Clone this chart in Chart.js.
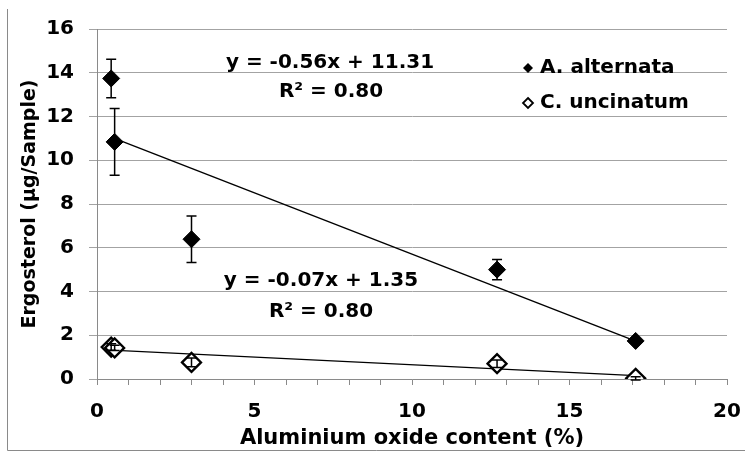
<!DOCTYPE html>
<html>
<head>
<meta charset="utf-8">
<script src="https://cdn.jsdelivr.net/npm/chart.js@4"></script>
<style>
  html, body { margin: 0; padding: 0; background: #ffffff; }
  #wrap { width: 745px; height: 453px; }
</style>
</head>
<body>
<div id="wrap"><canvas id="c" width="745" height="453"></canvas></div>
<script>
// ---- data ----
const seriesNames = ['A. alternata', 'C. uncinatum'];
const xValues = [0.45, 0.56, 3.0, 12.7, 17.1];
const alternataY = [13.74, 10.84, 6.39, 5.0, 1.74];
const alternataErr = [0.88, 1.53, 1.06, 0.46, 0.1];
const uncinatumY = [1.46, 1.42, 0.76, 0.7, 0.03];
const uncinatumErr = [0.15, 0.12, 0.2, 0.17, 0.07];
const trendSlope = [-0.56, -0.07];
const trendIntercept = [11.31, 1.35];
const equationLabels = ['y = -0.56x + 11.31', 'y = -0.07x + 1.35'];
const r2Labels = ['R² = 0.80', 'R² = 0.80'];
const xTitle = 'Aluminium oxide content (%)';
const yTitle = 'Ergosterol (µg/Sample)';

const FONT = '"DejaVu Sans", "Liberation Sans", Arial, sans-serif';

function pts(ys) { return xValues.map((x, i) => ({ x: x, y: ys[i] })); }
function trend(k) {
  const x0 = Math.min(...xValues), x1 = Math.max(...xValues);
  return [{ x: x0, y: trendSlope[k] * x0 + trendIntercept[k] },
          { x: x1, y: trendSlope[k] * x1 + trendIntercept[k] }];
}

const extras = {
  id: 'extras',
  beforeDraw(chart) {
    const ctx = chart.ctx;
    ctx.save();
    ctx.strokeStyle = '#8a8a8a';
    ctx.lineWidth = 1;
    ctx.beginPath();
    ctx.moveTo(7.5, 9);
    ctx.lineTo(7.5, 450.5);
    ctx.lineTo(745, 450.5);
    ctx.stroke();
    ctx.restore();
  },
  afterDatasetsDraw(chart) {
    const ctx = chart.ctx;
    const xs = chart.scales.x, ys = chart.scales.y;
    ctx.save();
    ctx.strokeStyle = '#000';
    ctx.lineWidth = 1.5;
    const bars = [[alternataY, alternataErr], [uncinatumY, uncinatumErr]];
    bars.forEach(([vals, errs]) => {
      vals.forEach((v, i) => {
        const px = xs.getPixelForValue(xValues[i]);
        const top = ys.getPixelForValue(v + errs[i]);
        const bot = ys.getPixelForValue(v - errs[i]);
        ctx.beginPath();
        ctx.moveTo(px, top); ctx.lineTo(px, bot);
        ctx.moveTo(px - 5, top); ctx.lineTo(px + 5, top);
        ctx.moveTo(px - 5, bot); ctx.lineTo(px + 5, bot);
        ctx.stroke();
      });
    });
    // equation labels
    ctx.fillStyle = '#000';
    ctx.font = 'bold 20px ' + FONT;
    ctx.textAlign = 'center';
    ctx.textBaseline = 'middle';
    ctx.fillText(equationLabels[0], 330, 63);
    ctx.fillText(r2Labels[0], 331, 92);
    ctx.fillText(equationLabels[1], 321, 281);
    ctx.fillText(r2Labels[1], 321, 312);
    // legend
    ctx.textAlign = 'left';
    const ly = [68, 103];
    ly.forEach((y, k) => {
      const cx = 528, r = 5;
      ctx.beginPath();
      ctx.moveTo(cx, y - r); ctx.lineTo(cx + r, y); ctx.lineTo(cx, y + r); ctx.lineTo(cx - r, y); ctx.closePath();
      if (k === 0) { ctx.fillStyle = '#000'; ctx.fill(); }
      else { ctx.fillStyle = '#fff'; ctx.fill(); ctx.lineWidth = 1.8; ctx.strokeStyle = '#000'; ctx.stroke(); }
      ctx.fillStyle = '#000';
      ctx.fillText(seriesNames[k], 540, y);
    });
    ctx.restore();
  }
};

new Chart(document.getElementById('c'), {
  type: 'scatter',
  data: {
    datasets: [
      { label: seriesNames[0], data: pts(alternataY), pointStyle: 'rectRot', pointRadius: 8.5,
        backgroundColor: '#000', borderColor: '#000', borderWidth: 1 },
      { label: seriesNames[1], data: pts(uncinatumY), pointStyle: 'rectRot', pointRadius: 9.5,
        backgroundColor: '#fff', borderColor: '#000', borderWidth: 2.3 },
      { label: 'trendA', data: trend(0), showLine: true, pointRadius: 0, borderColor: '#000', borderWidth: 1.4, fill: false },
      { label: 'trendC', data: trend(1), showLine: true, pointRadius: 0, borderColor: '#000', borderWidth: 1.4, fill: false }
    ]
  },
  options: {
    responsive: false,
    animation: false,
    devicePixelRatio: 1,
    layout: { padding: { left: 0, top: 29, right: 18, bottom: 0 } },
    plugins: { legend: { display: false }, tooltip: { enabled: false } },
    scales: {
      x: {
        type: 'linear', min: 0, max: 20,
        afterFit(s) { s.height = 74; s.paddingLeft = 0; s.paddingRight = 0; },
        ticks: { stepSize: 1, autoSkip: false, maxRotation: 0, padding: 15, color: '#000',
                 font: { family: FONT, size: 20, weight: 'bold' },
                 callback: (v) => (v % 5 === 0 ? String(v) : '') },
        grid: { drawOnChartArea: false, drawTicks: true, tickLength: 6, color: '#8a8a8a' },
        border: { display: true, color: '#8a8a8a', width: 1 },
        title: { display: true, text: xTitle, color: '#000', padding: 2,
                 font: { family: FONT, size: 21, weight: 'bold' } }
      },
      y: {
        type: 'linear', min: 0, max: 16,
        afterFit(s) { s.width = 97; s.paddingTop = 0; s.paddingBottom = 0; },
        ticks: { stepSize: 2, padding: 15, color: '#000',
                 font: { family: FONT, size: 20, weight: 'bold' } },
        grid: { color: '#a3a3a3', tickLength: 8, drawTicks: true },
        border: { display: true, color: '#8a8a8a', width: 1 },
        title: { display: true, text: yTitle, color: '#000', padding: { top: 19, bottom: 0 },
                 font: { family: FONT, size: 19, weight: 'bold' } }
      }
    }
  },
  plugins: [extras]
});
</script>
</body>
</html>
